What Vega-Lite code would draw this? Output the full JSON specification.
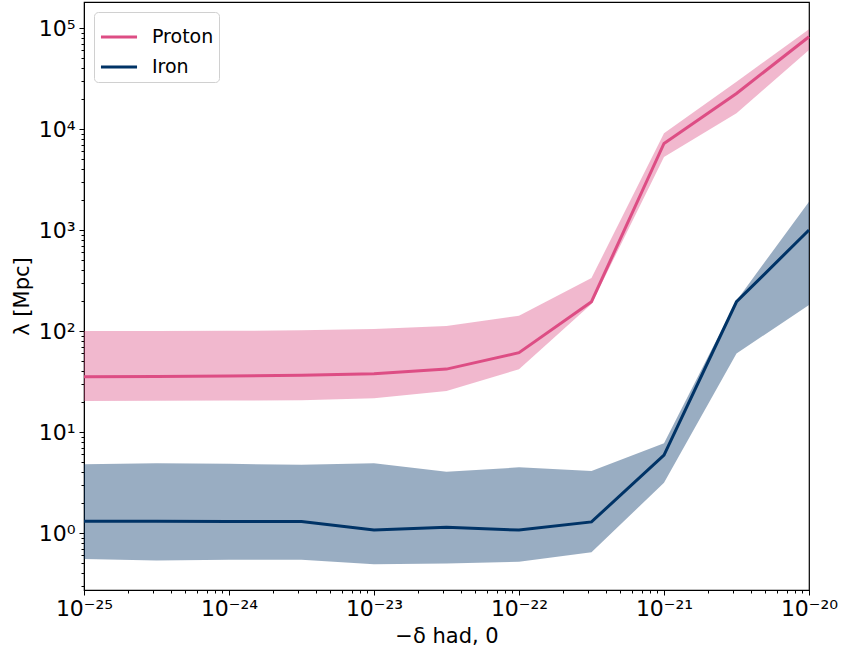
{
  "$schema": "https://vega.github.io/schema/vega-lite/v6.json",
  "width": 725,
  "height": 588,
  "autosize": "none",
  "padding": {"left": 84, "top": 2, "right": 33, "bottom": 60},
  "background": "white",
  "config": {
    "font": "DejaVu Sans",
    "view": {"stroke": "black", "strokeWidth": 1.2},
    "axis": {
      "domainColor": "black",
      "tickColor": "black",
      "labelColor": "black",
      "titleColor": "black",
      "grid": false,
      "labelFont": "DejaVu Sans",
      "titleFont": "DejaVu Sans",
      "labelFontSize": 22,
      "titleFontSize": 21,
      "titleFontWeight": "normal",
      "tickWidth": 1
    },
    "legend": {
      "orient": "top-left",
      "offset": 10,
      "symbolType": "stroke",
      "symbolStrokeWidth": 3,
      "symbolSize": 1300,
      "symbolOpacity": 1,
      "labelOffset": 13,
      "labelFontSize": 19,
      "labelFont": "DejaVu Sans",
      "labelColor": "black",
      "rowPadding": -8,
      "padding": 5,
      "strokeColor": "#d0d0d0",
      "cornerRadius": 4,
      "fillColor": "white"
    }
  },
  "data": {
    "values": [
      {"x": 1e-25, "series": "Proton", "y": 35.3, "lo": 20.3, "hi": 100},
      {"x": 3.162e-25, "series": "Proton", "y": 35.5, "lo": 20.4, "hi": 100},
      {"x": 1e-24, "series": "Proton", "y": 35.8, "lo": 20.5, "hi": 100.5},
      {"x": 3.162e-24, "series": "Proton", "y": 36.4, "lo": 20.7, "hi": 101.6},
      {"x": 1e-23, "series": "Proton", "y": 37.8, "lo": 21.6, "hi": 104.7},
      {"x": 3.162e-23, "series": "Proton", "y": 42, "lo": 25.5, "hi": 112},
      {"x": 1e-22, "series": "Proton", "y": 61, "lo": 41.8, "hi": 142},
      {"x": 3.162e-22, "series": "Proton", "y": 195, "lo": 185, "hi": 335},
      {"x": 1e-21, "series": "Proton", "y": 7200, "lo": 5300, "hi": 9100},
      {"x": 3.162e-21, "series": "Proton", "y": 22500, "lo": 14300, "hi": 29400},
      {"x": 1e-20, "series": "Proton", "y": 82000, "lo": 60600, "hi": 97000},
      {"x": 1e-25, "series": "Iron", "y": 1.31, "lo": 0.553, "hi": 4.79},
      {"x": 3.162e-25, "series": "Iron", "y": 1.31, "lo": 0.536, "hi": 4.9},
      {"x": 1e-24, "series": "Iron", "y": 1.30, "lo": 0.545, "hi": 4.85},
      {"x": 3.162e-24, "series": "Iron", "y": 1.30, "lo": 0.545, "hi": 4.74},
      {"x": 1e-23, "series": "Iron", "y": 1.07, "lo": 0.49, "hi": 4.9},
      {"x": 3.162e-23, "series": "Iron", "y": 1.14, "lo": 0.50, "hi": 4.05},
      {"x": 1e-22, "series": "Iron", "y": 1.07, "lo": 0.52, "hi": 4.47},
      {"x": 3.162e-22, "series": "Iron", "y": 1.29, "lo": 0.644, "hi": 4.11},
      {"x": 1e-21, "series": "Iron", "y": 5.92, "lo": 3.15, "hi": 7.73},
      {"x": 3.162e-21, "series": "Iron", "y": 195, "lo": 60, "hi": 200},
      {"x": 1e-20, "series": "Iron", "y": 1000, "lo": 181, "hi": 1910}
    ]
  },
  "encoding": {
    "x": {
      "field": "x",
      "type": "quantitative",
      "scale": {"type": "log", "domain": [1e-25, 1e-20], "nice": false},
      "axis": {
        "title": "−δ had, 0",
        "titlePadding": 6,
        "labelPadding": 3,
        "labelFlush": false,
        "values": [1e-25, 2e-25, 3e-25, 4e-25, 5e-25, 6e-25, 7e-25, 8e-25, 9e-25,
                   1e-24, 2e-24, 3e-24, 4e-24, 5e-24, 6e-24, 7e-24, 8e-24, 9e-24,
                   1e-23, 2e-23, 3e-23, 4e-23, 5e-23, 6e-23, 7e-23, 8e-23, 9e-23,
                   1e-22, 2e-22, 3e-22, 4e-22, 5e-22, 6e-22, 7e-22, 8e-22, 9e-22,
                   1e-21, 2e-21, 3e-21, 4e-21, 5e-21, 6e-21, 7e-21, 8e-21, 9e-21, 1e-20],
        "labelExpr": "abs(log(datum.value)/LN10 - round(log(datum.value)/LN10)) < 1e-6 ? '10' + ['⁻²⁵','⁻²⁴','⁻²³','⁻²²','⁻²¹','⁻²⁰'][round(log(datum.value)/LN10)+25] : ''",
        "tickSize": {"condition": {"test": "abs(log(datum.value)/LN10 - round(log(datum.value)/LN10)) < 1e-6", "value": 5}, "value": 3}
      }
    },
    "color": {
      "field": "series",
      "type": "nominal",
      "scale": {"domain": ["Proton", "Iron"], "range": ["#dd4d84", "#003366"]},
      "legend": {"title": null}
    }
  },
  "layer": [
    {
      "mark": {"type": "area", "opacity": 0.4},
      "encoding": {
        "y": {"field": "lo", "type": "quantitative"},
        "y2": {"field": "hi"}
      }
    },
    {
      "mark": {"type": "line", "strokeWidth": 3},
      "encoding": {
        "y": {
          "field": "y",
          "type": "quantitative",
          "scale": {"type": "log", "domain": [0.273, 181000], "nice": false},
          "axis": {
            "title": "λ [Mpc]",
            "titlePadding": 6,
            "labelPadding": 4,
            "labelFlush": false,
            "values": [0.3, 0.4, 0.5, 0.6, 0.7, 0.8, 0.9,
                       1, 2, 3, 4, 5, 6, 7, 8, 9,
                       10, 20, 30, 40, 50, 60, 70, 80, 90,
                       100, 200, 300, 400, 500, 600, 700, 800, 900,
                       1000, 2000, 3000, 4000, 5000, 6000, 7000, 8000, 9000,
                       10000, 20000, 30000, 40000, 50000, 60000, 70000, 80000, 90000, 100000],
            "labelExpr": "abs(log(datum.value)/LN10 - round(log(datum.value)/LN10)) < 1e-6 ? '10' + ['⁰','¹','²','³','⁴','⁵'][round(log(datum.value)/LN10)] : ''",
            "tickSize": {"condition": {"test": "abs(log(datum.value)/LN10 - round(log(datum.value)/LN10)) < 1e-6", "value": 5}, "value": 3}
          }
        }
      }
    }
  ]
}
